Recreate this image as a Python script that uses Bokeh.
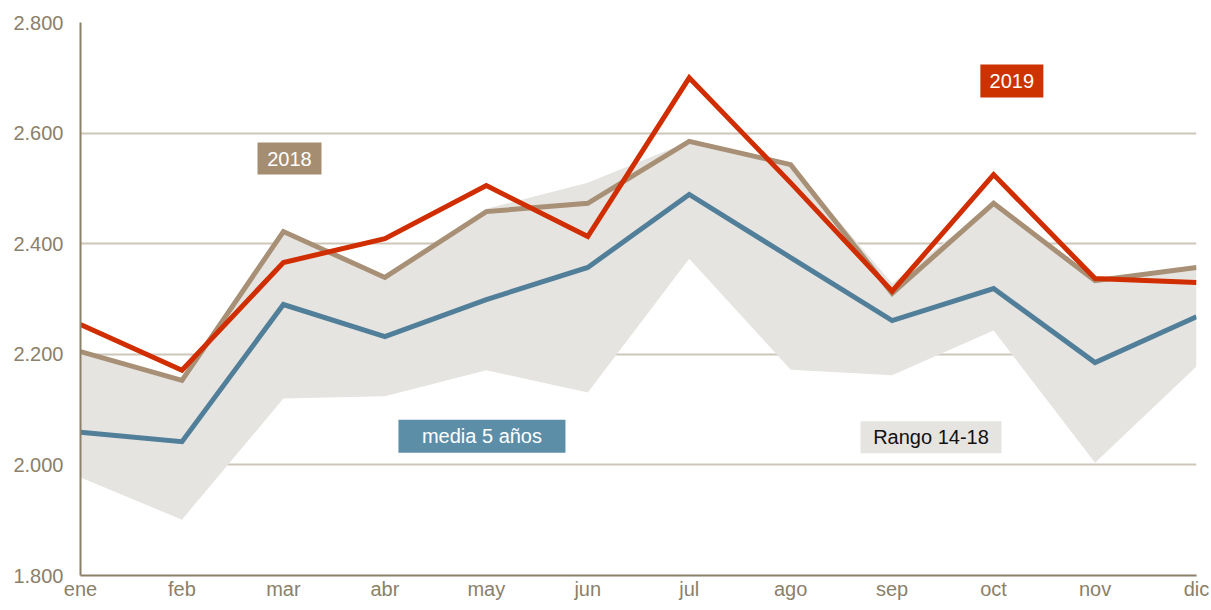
from bokeh.plotting import figure
from bokeh.models import ColumnDataSource, Range1d, FixedTicker
from bokeh.core.properties import value
from bokeh.embed import file_html
from bokeh.resources import INLINE

months = ["ene", "feb", "mar", "abr", "may", "jun", "jul", "ago", "sep", "oct", "nov", "dic"]
y2019 = [2254, 2171, 2366, 2409, 2505, 2413, 2700, 2510, 2314, 2525, 2337, 2330]
y2018 = [2205, 2153, 2422, 2339, 2458, 2473, 2585, 2543, 2310, 2473, 2333, 2357]
media = [2059, 2042, 2290, 2232, 2299, 2357, 2489, 2375, 2261, 2319, 2185, 2268]
rango_low = [1977, 1901, 2120, 2124, 2171, 2131, 2373, 2172, 2162, 2243, 2004, 2178]
rango_high = [2205, 2153, 2422, 2339, 2463, 2510, 2585, 2543, 2328, 2473, 2333, 2355]
y_ticks = [1800, 2000, 2200, 2400, 2600, 2800]
y_tick_labels = ["1.800", "2.000", "2.200", "2.400", "2.600", "2.800"]

xs = list(range(len(months)))
src = ColumnDataSource(dict(x=xs, y2019=y2019, y2018=y2018, media=media,
                            lo=rango_low, hi=rango_high))

FONT = "Liberation Sans"
AXIS_C = "#8b8069"

p = figure(width=1210, height=609, output_backend="svg", toolbar_location=None,
           x_range=Range1d(0, 11), y_range=Range1d(1800, 2800),
           min_border_left=80, min_border_right=14, min_border_top=22, min_border_bottom=34)
p.outline_line_color = None
p.background_fill_color = "white"

p.varea(x="x", y1="lo", y2="hi", source=src, fill_color="#e6e4e0")
p.line(x="x", y="media", source=src, line_color="#517f99", line_width=5, line_join="miter")
p.line(x="x", y="y2018", source=src, line_color="#a89077", line_width=5, line_join="miter")
p.line(x="x", y="y2019", source=src, line_color="#d02e00", line_width=5, line_join="miter")

# x axis
xa = p.xaxis[0]
xa.ticker = FixedTicker(ticks=xs)
xa.major_label_overrides = {i: m for i, m in enumerate(months)}
# y axis
ya = p.yaxis[0]
ya.ticker = FixedTicker(ticks=y_ticks)
ya.major_label_overrides = {t: l for t, l in zip(y_ticks, y_tick_labels)}
for ax in (xa, ya):
    ax.axis_line_color = AXIS_C
    ax.axis_line_width = 2
    ax.major_tick_line_color = None
    ax.minor_tick_line_color = None
    ax.major_label_text_color = AXIS_C
    ax.major_label_text_font = FONT
    ax.major_label_text_font_size = "20px"
ya.major_label_standoff = 17
xa.major_label_standoff = 2
xa.major_tick_out = 0
xa.major_tick_in = 0
ya.major_tick_out = 0
ya.major_tick_in = 0

p.xgrid.grid_line_color = None
p.ygrid.grid_line_color = "#cdc6b9"
p.ygrid.grid_line_width = 2

# labels (annotations)
labels = [
    ("2018", 2.06, 2554, 64, 32, "#a58d72", "white"),
    ("2019", 9.18, 2694, 63, 33, "#cc3300", "white"),
    ("media 5 años", 3.957, 2052, 167, 33, "#5d8ea8", "white"),
    ("Rango 14-18", 8.383, 2050, 141, 32, "#e6e4e0", "#111111"),
]
for txt, lx, ly, w, h, bg, fg in labels:
    p.rect(x=[lx], y=[ly], width=w, height=h, width_units="screen", height_units="screen",
           fill_color=bg, line_color=None)
    p.text(x=[lx], y=[ly], text=[txt], text_align="center", text_baseline="middle",
           text_color=fg, text_font=value(FONT), text_font_size="20px")

open("out.html", "w").write(file_html(p, INLINE))
